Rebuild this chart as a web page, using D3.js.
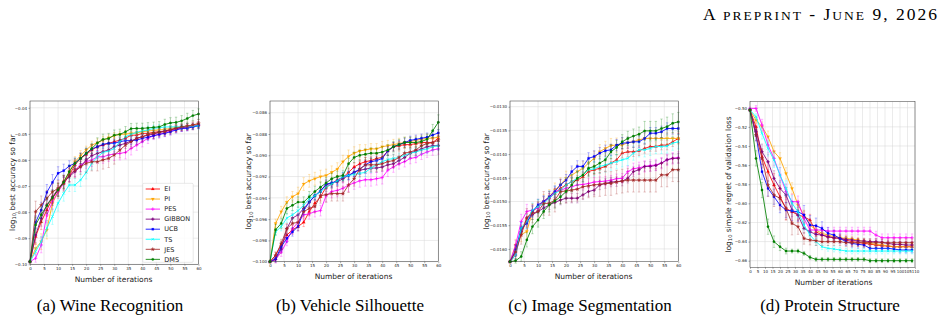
<!DOCTYPE html>
<meta charset="utf-8">
<style>

body {
  margin: 0;
  background: #fff;
}

svg {
  display: block;
}

.tick text {
  font: 4px "DejaVu Sans";
  fill: #222;
}

.label {
  font: 7.5px "DejaVu Sans";
  fill: #222;
}

.legend text {
  font: 6.5px "DejaVu Sans";
  fill: #222;
}

.serif {
  font-family: "Liberation Serif", serif;
  fill: #000;
}

</style>
<svg width="944" height="322"></svg>
<script src="https://cdnjs.cloudflare.com/ajax/libs/d3/7.8.5/d3.min.js"></script>
<script>

var methods = ["EI", "PI", "PES", "GIBBON", "UCB", "TS", "JES", "DMS"],
    colors = ["red", "orange", "magenta", "purple", "blue", "cyan", "brown", "green"];

var iters60 = [0, 2, 4, 6, 8, 10, 12, 14, 16, 18, 20, 22, 24, 26, 28, 30, 32, 34, 36, 38, 40, 42, 44, 46, 48, 50, 52, 54, 56, 58, 60],
    iters110 = [0, 4, 8, 12, 16, 20, 24, 28, 32, 36, 40, 44, 48, 52, 56, 60, 64, 68, 72, 76, 80, 84, 88, 92, 96, 100, 104, 108];

var ticks60 = [0, 5, 10, 15, 20, 25, 30, 35, 40, 45, 50, 55, 60],
    ticks110 = [0, 5, 10, 15, 20, 25, 30, 35, 40, 45, 50, 55, 60, 65, 70, 75, 80, 85, 90, 95, 100, 105, 110];

var captions = ["(a) Wine Recognition", "(b) Vehicle Silhouette", "(c) Image Segmentation", "(d) Protein Structure"];

// (a) wine recognition, log10 best accuracy so far
var wineEI = [-0.0990,-0.0894,-0.0837,-0.0792,-0.0747,-0.0715,-0.0690,-0.0658,-0.0619,-0.0594,-0.0579,-0.0562,-0.0549,-0.0543,-0.0536,-0.0530,-0.0524,-0.0517,-0.0505,-0.0505,-0.0498,-0.0498,-0.0494,-0.0492,-0.0489,-0.0483,-0.0479,-0.0475,-0.0473,-0.0470,-0.0466];
var winePI = [-0.0990,-0.0939,-0.0913,-0.0868,-0.0766,-0.0722,-0.0683,-0.0645,-0.0607,-0.0584,-0.0562,-0.0543,-0.0534,-0.0524,-0.0515,-0.0507,-0.0502,-0.0501,-0.0498,-0.0496,-0.0492,-0.0489,-0.0487,-0.0485,-0.0483,-0.0479,-0.0475,-0.0473,-0.0470,-0.0466,-0.0464];
var winePES = [-0.0990,-0.0977,-0.0926,-0.0811,-0.0760,-0.0722,-0.0690,-0.0658,-0.0639,-0.0619,-0.0607,-0.0600,-0.0588,-0.0588,-0.0581,-0.0577,-0.0575,-0.0571,-0.0556,-0.0543,-0.0530,-0.0517,-0.0507,-0.0502,-0.0496,-0.0489,-0.0483,-0.0479,-0.0475,-0.0470,-0.0466];
var wineGIBBON = [-0.0990,-0.0888,-0.0824,-0.0773,-0.0741,-0.0711,-0.0683,-0.0664,-0.0645,-0.0626,-0.0600,-0.0584,-0.0575,-0.0568,-0.0562,-0.0549,-0.0543,-0.0536,-0.0528,-0.0517,-0.0511,-0.0505,-0.0501,-0.0494,-0.0489,-0.0485,-0.0479,-0.0476,-0.0473,-0.0473,-0.0466];
var wineUCB = [-0.0990,-0.0839,-0.0792,-0.0724,-0.0686,-0.0651,-0.0641,-0.0623,-0.0613,-0.0594,-0.0575,-0.0558,-0.0549,-0.0540,-0.0536,-0.0536,-0.0530,-0.0526,-0.0526,-0.0524,-0.0517,-0.0513,-0.0507,-0.0502,-0.0498,-0.0492,-0.0485,-0.0479,-0.0479,-0.0473,-0.0470];
var wineTS = [-0.0990,-0.0951,-0.0913,-0.0862,-0.0817,-0.0766,-0.0728,-0.0696,-0.0696,-0.0677,-0.0648,-0.0613,-0.0588,-0.0571,-0.0566,-0.0556,-0.0530,-0.0511,-0.0502,-0.0494,-0.0489,-0.0485,-0.0479,-0.0476,-0.0474,-0.0473,-0.0473,-0.0473,-0.0471,-0.0470,-0.0469];
var wineJES = [-0.0990,-0.0798,-0.0773,-0.0747,-0.0722,-0.0709,-0.0690,-0.0658,-0.0639,-0.0626,-0.0613,-0.0607,-0.0607,-0.0600,-0.0594,-0.0581,-0.0562,-0.0543,-0.0530,-0.0517,-0.0511,-0.0502,-0.0498,-0.0494,-0.0492,-0.0485,-0.0479,-0.0473,-0.0470,-0.0466,-0.0460];
var wineDMS = [-0.0990,-0.0849,-0.0810,-0.0775,-0.0745,-0.0715,-0.0685,-0.0645,-0.0613,-0.0594,-0.0575,-0.0556,-0.0535,-0.0521,-0.0518,-0.0505,-0.0502,-0.0492,-0.0480,-0.0479,-0.0479,-0.0477,-0.0475,-0.0473,-0.0464,-0.0458,-0.0456,-0.0450,-0.0441,-0.0430,-0.0424];

var wineErrEI = [0,.0030,.0030,.0025,.0025,.0025,.0025,.0025,.0020,.0020,.0020,.0020,.0015,.0015,.0015,.0015,.0015,.0015,.0015,.0015,.0015,.0015,.0012,.0012,.0012,.0012,.0012,.0012,.0012,.0012,.0012];
var wineErrPI = [0,.0020,.0030,.0035,.0030,.0025,.0025,.0020,.0020,.0020,.0015,.0015,.0015,.0015,.0012,.0012,.0012,.0012,.0010,.0010,.0010,.0010,.0010,.0010,.0010,.0010,.0010,.0010,.0010,.0010,.0010];
var wineErrPES = [0,.0015,.0030,.0030,.0030,.0025,.0025,.0025,.0025,.0025,.0025,.0025,.0025,.0025,.0025,.0025,.0025,.0025,.0025,.0020,.0020,.0020,.0015,.0015,.0015,.0015,.0012,.0012,.0012,.0012,.0012];
var wineErrGIBBON = [0,.0030,.0030,.0030,.0025,.0025,.0025,.0020,.0020,.0020,.0020,.0020,.0020,.0020,.0020,.0020,.0020,.0020,.0020,.0015,.0015,.0015,.0015,.0015,.0015,.0012,.0012,.0012,.0012,.0012,.0012];
var wineErrUCB = [0,.0025,.0030,.0030,.0030,.0025,.0025,.0020,.0020,.0020,.0020,.0018,.0018,.0015,.0015,.0015,.0015,.0015,.0015,.0015,.0015,.0012,.0012,.0012,.0012,.0012,.0012,.0012,.0010,.0010,.0010];
var wineErrTS = [0,.0015,.0020,.0030,.0030,.0030,.0030,.0025,.0025,.0025,.0025,.0025,.0020,.0020,.0020,.0020,.0020,.0015,.0015,.0015,.0015,.0015,.0012,.0012,.0012,.0012,.0012,.0012,.0012,.0012,.0012];
var wineErrJES = [0,.0040,.0035,.0030,.0030,.0030,.0030,.0030,.0030,.0030,.0035,.0035,.0035,.0035,.0035,.0035,.0030,.0030,.0025,.0025,.0020,.0020,.0020,.0015,.0015,.0015,.0015,.0015,.0015,.0015,.0015];
var wineErrDMS = [0,.0030,.0030,.0030,.0030,.0025,.0025,.0025,.0020,.0020,.0020,.0020,.0020,.0020,.0020,.0020,.0020,.0020,.0020,.0020,.0020,.0020,.0020,.0020,.0020,.0020,.0020,.0020,.0020,.0020,.0020];

// (b) vehicle silhouette, log10 best accuracy so far
var vehEI = [-0.1000,-0.0994,-0.0984,-0.0975,-0.0970,-0.0967,-0.0963,-0.0953,-0.0945,-0.0939,-0.0930,-0.0927,-0.0923,-0.0921,-0.0916,-0.0911,-0.0908,-0.0906,-0.0905,-0.0903,-0.0902,-0.0896,-0.0892,-0.0891,-0.0890,-0.0890,-0.0889,-0.0888,-0.0888,-0.0888,-0.0884];
var vehPI = [-0.1000,-0.0964,-0.0953,-0.0944,-0.0939,-0.0936,-0.0927,-0.0924,-0.0922,-0.0920,-0.0919,-0.0916,-0.0913,-0.0906,-0.0901,-0.0898,-0.0896,-0.0895,-0.0894,-0.0894,-0.0892,-0.0891,-0.0890,-0.0889,-0.0888,-0.0887,-0.0886,-0.0885,-0.0884,-0.0884,-0.0883];
var vehPES = [-0.1000,-0.0998,-0.0991,-0.0981,-0.0969,-0.0963,-0.0956,-0.0955,-0.0953,-0.0952,-0.0938,-0.0934,-0.0933,-0.0931,-0.0928,-0.0926,-0.0924,-0.0923,-0.0923,-0.0922,-0.0921,-0.0914,-0.0911,-0.0908,-0.0906,-0.0903,-0.0902,-0.0899,-0.0897,-0.0895,-0.0894];
var vehGIBBON = [-0.1000,-0.0998,-0.0988,-0.0969,-0.0959,-0.0956,-0.0950,-0.0944,-0.0938,-0.0933,-0.0928,-0.0926,-0.0925,-0.0922,-0.0919,-0.0916,-0.0914,-0.0913,-0.0912,-0.0912,-0.0911,-0.0909,-0.0908,-0.0905,-0.0902,-0.0898,-0.0896,-0.0894,-0.0892,-0.0891,-0.0891];
var vehUCB = [-0.1000,-0.0997,-0.0986,-0.0978,-0.0972,-0.0967,-0.0952,-0.0944,-0.0938,-0.0934,-0.0927,-0.0926,-0.0924,-0.0920,-0.0919,-0.0916,-0.0913,-0.0909,-0.0906,-0.0905,-0.0903,-0.0896,-0.0892,-0.0890,-0.0888,-0.0886,-0.0885,-0.0884,-0.0883,-0.0881,-0.0879];
var vehTS = [-0.1000,-0.0972,-0.0967,-0.0959,-0.0956,-0.0952,-0.0947,-0.0941,-0.0938,-0.0934,-0.0930,-0.0927,-0.0924,-0.0920,-0.0919,-0.0918,-0.0917,-0.0916,-0.0912,-0.0909,-0.0906,-0.0904,-0.0903,-0.0902,-0.0900,-0.0898,-0.0897,-0.0895,-0.0894,-0.0892,-0.0891];
var vehJES = [-0.1000,-0.0994,-0.0983,-0.0969,-0.0964,-0.0963,-0.0953,-0.0950,-0.0948,-0.0938,-0.0937,-0.0936,-0.0936,-0.0936,-0.0928,-0.0922,-0.0913,-0.0909,-0.0909,-0.0909,-0.0908,-0.0906,-0.0905,-0.0902,-0.0898,-0.0897,-0.0895,-0.0891,-0.0889,-0.0888,-0.0886];
var vehDMS = [-0.1000,-0.0970,-0.0964,-0.0950,-0.0947,-0.0944,-0.0944,-0.0939,-0.0934,-0.0930,-0.0926,-0.0922,-0.0920,-0.0919,-0.0908,-0.0902,-0.0900,-0.0899,-0.0898,-0.0898,-0.0897,-0.0895,-0.0892,-0.0890,-0.0888,-0.0888,-0.0888,-0.0887,-0.0885,-0.0877,-0.0869];

var vehErrEI = [0,.0003,.0003,.0004,.0004,.0004,.0004,.0004,.0004,.0004,.0004,.0004,.0004,.0004,.0004,.0004,.0004,.0004,.0004,.0004,.0004,.0004,.0004,.0004,.0003,.0003,.0003,.0003,.0003,.0003,.0003];
var vehErrPI = [0,.0004,.0005,.0005,.0005,.0006,.0006,.0006,.0006,.0006,.0006,.0006,.0006,.0006,.0006,.0006,.0006,.0005,.0005,.0005,.0005,.0005,.0005,.0005,.0005,.0004,.0004,.0004,.0004,.0004,.0004];
var vehErrPES = [0,.0003,.0004,.0004,.0005,.0005,.0005,.0005,.0005,.0005,.0006,.0006,.0006,.0006,.0006,.0006,.0006,.0006,.0006,.0006,.0006,.0006,.0005,.0005,.0005,.0005,.0005,.0005,.0005,.0005,.0005];
var vehErrGIBBON = [0,.0003,.0004,.0004,.0004,.0004,.0004,.0004,.0004,.0004,.0004,.0004,.0004,.0004,.0004,.0004,.0004,.0004,.0004,.0004,.0004,.0004,.0004,.0004,.0004,.0004,.0004,.0004,.0004,.0004,.0004];
var vehErrUCB = [0,.0003,.0004,.0004,.0004,.0004,.0004,.0004,.0004,.0004,.0004,.0004,.0004,.0004,.0004,.0004,.0004,.0004,.0004,.0004,.0004,.0004,.0004,.0004,.0004,.0004,.0004,.0004,.0004,.0003,.0003];
var vehErrTS = [0,.0003,.0004,.0004,.0004,.0004,.0004,.0004,.0004,.0004,.0004,.0004,.0004,.0004,.0004,.0004,.0004,.0004,.0004,.0004,.0004,.0004,.0004,.0004,.0004,.0004,.0004,.0004,.0004,.0004,.0004];
var vehErrJES = [0,.0003,.0004,.0005,.0005,.0005,.0005,.0006,.0006,.0007,.0007,.0007,.0007,.0007,.0007,.0007,.0007,.0007,.0006,.0006,.0006,.0006,.0006,.0006,.0005,.0005,.0005,.0005,.0005,.0005,.0005];
var vehErrDMS = [0,.0005,.0005,.0005,.0005,.0005,.0005,.0005,.0005,.0005,.0005,.0005,.0005,.0005,.0005,.0005,.0005,.0005,.0005,.0005,.0005,.0005,.0005,.0005,.0005,.0005,.0005,.0005,.0005,.0006,.0007];

// (c) image segmentation, log10 best accuracy so far
var segEI = [-0.01627,-0.01606,-0.01563,-0.01535,-0.01521,-0.01511,-0.01500,-0.01493,-0.01483,-0.01472,-0.01465,-0.01458,-0.01455,-0.01448,-0.01437,-0.01433,-0.01430,-0.01426,-0.01419,-0.01412,-0.01398,-0.01395,-0.01395,-0.01393,-0.01388,-0.01384,-0.01384,-0.01381,-0.01381,-0.01374,-0.01367];
var segPI = [-0.01627,-0.01592,-0.01570,-0.01563,-0.01521,-0.01511,-0.01500,-0.01490,-0.01476,-0.01465,-0.01451,-0.01444,-0.01437,-0.01430,-0.01419,-0.01409,-0.01395,-0.01388,-0.01382,-0.01381,-0.01381,-0.01376,-0.01374,-0.01370,-0.01367,-0.01367,-0.01367,-0.01367,-0.01367,-0.01367,-0.01367];
var segPES = [-0.01627,-0.01592,-0.01542,-0.01521,-0.01518,-0.01514,-0.01500,-0.01493,-0.01479,-0.01476,-0.01472,-0.01469,-0.01465,-0.01464,-0.01462,-0.01459,-0.01458,-0.01457,-0.01455,-0.01452,-0.01451,-0.01437,-0.01431,-0.01429,-0.01426,-0.01424,-0.01423,-0.01419,-0.01412,-0.01409,-0.01407];
var segGIBBON = [-0.01627,-0.01613,-0.01563,-0.01542,-0.01528,-0.01521,-0.01514,-0.01507,-0.01502,-0.01497,-0.01493,-0.01493,-0.01493,-0.01486,-0.01479,-0.01476,-0.01465,-0.01462,-0.01459,-0.01458,-0.01457,-0.01451,-0.01437,-0.01433,-0.01426,-0.01426,-0.01424,-0.01419,-0.01412,-0.01409,-0.01409];
var segUCB = [-0.01627,-0.01602,-0.01556,-0.01546,-0.01521,-0.01507,-0.01500,-0.01490,-0.01479,-0.01465,-0.01455,-0.01437,-0.01426,-0.01426,-0.01409,-0.01405,-0.01398,-0.01393,-0.01391,-0.01381,-0.01377,-0.01376,-0.01374,-0.01374,-0.01367,-0.01356,-0.01356,-0.01353,-0.01346,-0.01346,-0.01346];
var segTS = [-0.01627,-0.01613,-0.01556,-0.01542,-0.01518,-0.01511,-0.01504,-0.01493,-0.01483,-0.01476,-0.01465,-0.01458,-0.01451,-0.01444,-0.01433,-0.01431,-0.01426,-0.01423,-0.01419,-0.01416,-0.01412,-0.01409,-0.01398,-0.01391,-0.01391,-0.01388,-0.01384,-0.01384,-0.01383,-0.01377,-0.01374];
var segJES = [-0.01627,-0.01606,-0.01570,-0.01535,-0.01525,-0.01521,-0.01504,-0.01504,-0.01497,-0.01479,-0.01478,-0.01476,-0.01474,-0.01469,-0.01467,-0.01465,-0.01464,-0.01462,-0.01462,-0.01459,-0.01457,-0.01455,-0.01455,-0.01455,-0.01455,-0.01455,-0.01455,-0.01444,-0.01444,-0.01433,-0.01433];
var segDMS = [-0.01627,-0.01625,-0.01616,-0.01581,-0.01553,-0.01539,-0.01521,-0.01507,-0.01499,-0.01490,-0.01479,-0.01465,-0.01451,-0.01444,-0.01430,-0.01426,-0.01419,-0.01412,-0.01395,-0.01386,-0.01374,-0.01367,-0.01362,-0.01358,-0.01351,-0.01351,-0.01351,-0.01346,-0.01342,-0.01335,-0.01332];

var segErrEI = [0,.00010,.00010,.00010,.00010,.00010,.00010,.00010,.00010,.00010,.00010,.00010,.00010,.00010,.00010,.00010,.00010,.00010,.00010,.00010,.00010,.00010,.00010,.00010,.00010,.00010,.00010,.00010,.00010,.00010,.00010];
var segErrPI = [0,.00012,.00015,.00015,.00015,.00015,.00015,.00015,.00015,.00015,.00015,.00015,.00015,.00015,.00015,.00015,.00015,.00015,.00015,.00015,.00015,.00012,.00012,.00012,.00012,.00012,.00012,.00012,.00012,.00012,.00012];
var segErrPES = [0,.00010,.00015,.00015,.00010,.00010,.00010,.00010,.00010,.00010,.00010,.00010,.00010,.00010,.00010,.00010,.00010,.00010,.00010,.00010,.00010,.00012,.00012,.00012,.00012,.00012,.00012,.00012,.00012,.00012,.00012];
var segErrGIBBON = [0,.00010,.00010,.00010,.00010,.00010,.00010,.00010,.00010,.00010,.00010,.00010,.00010,.00010,.00010,.00010,.00010,.00010,.00010,.00010,.00010,.00010,.00010,.00010,.00010,.00010,.00010,.00010,.00010,.00010,.00010];
var segErrUCB = [0,.00010,.00012,.00012,.00012,.00012,.00012,.00012,.00012,.00012,.00012,.00012,.00012,.00012,.00012,.00012,.00012,.00012,.00012,.00012,.00012,.00012,.00012,.00012,.00012,.00012,.00012,.00012,.00012,.00012,.00012];
var segErrTS = [0,.00010,.00012,.00015,.00015,.00015,.00015,.00015,.00015,.00015,.00015,.00015,.00015,.00015,.00015,.00015,.00015,.00015,.00015,.00015,.00015,.00015,.00015,.00015,.00015,.00015,.00015,.00015,.00015,.00015,.00015];
var segErrJES = [0,.00015,.00020,.00020,.00020,.00020,.00025,.00025,.00025,.00025,.00025,.00025,.00025,.00025,.00025,.00025,.00025,.00025,.00025,.00025,.00025,.00025,.00025,.00025,.00025,.00025,.00025,.00025,.00025,.00025,.00025];
var segErrDMS = [0,.00005,.00010,.00015,.00015,.00015,.00015,.00015,.00015,.00015,.00015,.00015,.00015,.00015,.00015,.00015,.00015,.00015,.00015,.00015,.00015,.00015,.00015,.00015,.00020,.00020,.00020,.00020,.00020,.00020,.00020];

// (d) protein structure, log10 simple regret of validation loss
var protEI = [-0.5024,-0.5199,-0.5512,-0.5669,-0.5809,-0.5931,-0.6053,-0.6088,-0.6122,-0.6140,-0.6175,-0.6297,-0.6332,-0.6349,-0.6360,-0.6367,-0.6384,-0.6401,-0.6408,-0.6419,-0.6426,-0.6436,-0.6443,-0.6447,-0.6454,-0.6454,-0.6454,-0.6454];
var protPI = [-0.5024,-0.5129,-0.5199,-0.5303,-0.5460,-0.5530,-0.5687,-0.5844,-0.6018,-0.6122,-0.6227,-0.6279,-0.6314,-0.6332,-0.6349,-0.6360,-0.6367,-0.6374,-0.6384,-0.6401,-0.6419,-0.6429,-0.6436,-0.6443,-0.6454,-0.6454,-0.6454,-0.6454];
var protPES = [-0.5007,-0.5007,-0.5181,-0.5390,-0.5530,-0.5704,-0.5878,-0.5983,-0.5983,-0.6157,-0.6279,-0.6279,-0.6279,-0.6290,-0.6290,-0.6290,-0.6290,-0.6290,-0.6290,-0.6290,-0.6290,-0.6332,-0.6360,-0.6360,-0.6360,-0.6360,-0.6360,-0.6360];
var protGIBBON = [-0.5024,-0.5251,-0.5460,-0.5565,-0.5739,-0.5844,-0.5913,-0.6070,-0.6122,-0.6262,-0.6297,-0.6325,-0.6332,-0.6349,-0.6360,-0.6367,-0.6377,-0.6384,-0.6394,-0.6394,-0.6401,-0.6401,-0.6408,-0.6419,-0.6429,-0.6429,-0.6436,-0.6436];
var protUCB = [-0.5024,-0.5286,-0.5669,-0.5844,-0.5931,-0.6018,-0.6070,-0.6081,-0.6088,-0.6122,-0.6227,-0.6234,-0.6262,-0.6314,-0.6332,-0.6367,-0.6401,-0.6419,-0.6429,-0.6436,-0.6471,-0.6471,-0.6471,-0.6471,-0.6478,-0.6488,-0.6488,-0.6488];
var protTS = [-0.5024,-0.5094,-0.5268,-0.5425,-0.5547,-0.5704,-0.5844,-0.6000,-0.6088,-0.6227,-0.6332,-0.6401,-0.6454,-0.6471,-0.6478,-0.6488,-0.6499,-0.6499,-0.6499,-0.6499,-0.6499,-0.6499,-0.6499,-0.6499,-0.6499,-0.6499,-0.6499,-0.6499];
var protJES = [-0.5024,-0.5286,-0.5530,-0.5809,-0.5913,-0.5948,-0.6053,-0.6210,-0.6244,-0.6367,-0.6384,-0.6391,-0.6401,-0.6401,-0.6401,-0.6401,-0.6412,-0.6412,-0.6412,-0.6412,-0.6412,-0.6412,-0.6412,-0.6412,-0.6412,-0.6412,-0.6412,-0.6412];
var protDMS = [-0.5024,-0.5530,-0.5861,-0.6244,-0.6401,-0.6454,-0.6499,-0.6499,-0.6499,-0.6523,-0.6565,-0.6586,-0.6586,-0.6586,-0.6586,-0.6586,-0.6586,-0.6586,-0.6586,-0.6586,-0.6600,-0.6600,-0.6600,-0.6600,-0.6600,-0.6600,-0.6600,-0.6600];

var protErrEI = [0,.004,.008,.010,.012,.012,.012,.010,.008,.006,.006,.005,.005,.005,.004,.004,.004,.004,.004,.004,.004,.003,.003,.003,.003,.003,.003,.003];
var protErrPI = [0,.003,.005,.006,.006,.006,.006,.006,.005,.005,.004,.004,.004,.004,.003,.003,.003,.003,.003,.003,.003,.003,.003,.003,.003,.003,.003,.003];
var protErrPES = [0,.003,.006,.008,.008,.008,.008,.008,.006,.005,.004,.004,.004,.004,.004,.004,.004,.004,.004,.004,.004,.004,.004,.004,.004,.004,.004,.004];
var protErrGIBBON = [0,.005,.008,.008,.008,.008,.008,.007,.006,.005,.004,.004,.004,.004,.003,.003,.003,.003,.003,.003,.003,.003,.003,.003,.003,.003,.003,.003];
var protErrUCB = [0,.006,.008,.008,.008,.008,.008,.010,.010,.010,.010,.008,.007,.006,.005,.005,.004,.004,.004,.003,.003,.003,.003,.003,.003,.003,.003,.003];
var protErrTS = [0,.003,.006,.008,.008,.008,.008,.008,.006,.005,.004,.004,.003,.003,.003,.003,.003,.003,.003,.003,.003,.003,.003,.003,.003,.003,.003,.003];
var protErrJES = [0,.006,.010,.012,.012,.012,.012,.012,.008,.006,.005,.005,.004,.004,.004,.004,.004,.004,.004,.004,.004,.004,.004,.004,.004,.004,.004,.004];
var protErrDMS = [0,.008,.008,.008,.006,.004,.003,.002,.002,.002,.002,.002,.002,.002,.002,.002,.002,.002,.002,.002,.002,.002,.002,.002,.002,.002,.002,.002];

var wineYTicks = [-0.10, -0.09, -0.08, -0.07, -0.06, -0.05, -0.04],
    wineYLabels = ["\u22120.10", "\u22120.09", "\u22120.08", "\u22120.07", "\u22120.06", "\u22120.05", "\u22120.04"],
    vehYTicks = [-0.100, -0.098, -0.096, -0.094, -0.092, -0.090, -0.088, -0.086],
    vehYLabels = ["\u22120.100", "\u22120.098", "\u22120.096", "\u22120.094", "\u22120.092", "\u22120.090", "\u22120.088", "\u22120.086"],
    segYTicks = [-0.0160, -0.0155, -0.0150, -0.0145, -0.0140, -0.0135, -0.0130],
    segYLabels = ["\u22120.0160", "\u22120.0155", "\u22120.0150", "\u22120.0145", "\u22120.0140", "\u22120.0135", "\u22120.0130"],
    protYTicks = [-0.66, -0.64, -0.62, -0.60, -0.58, -0.56, -0.54, -0.52, -0.50],
    protYLabels = ["\u22120.66", "\u22120.64", "\u22120.62", "\u22120.60", "\u22120.58", "\u22120.56", "\u22120.54", "\u22120.52", "\u22120.50"];

</script>
<script>

var svg = d3.select("svg");

var symbols = [
  {type: d3.symbolTriangle, rotate: 0, fill: true},
  {type: d3.symbolTriangle, rotate: 180, fill: true},
  {type: d3.symbolPlus, rotate: 0, fill: false},
  {type: d3.symbolCross, rotate: 0, fill: true},
  {type: d3.symbolSquare, rotate: 0, fill: true},
  {type: d3.symbolTimes, rotate: 0, fill: false},
  {type: d3.symbolStar, rotate: 0, fill: true},
  {type: d3.symbolCircle, rotate: 0, fill: true}
];

var panels = [
  {box: [30, 198.5, 101, 264.3], xDomain: [0, 60], yDomain: [-0.1000, -0.0374],
   iters: iters60, xTicks: ticks60, yTicks: wineYTicks, yLabels: wineYLabels,
   series: [wineEI, winePI, winePES, wineGIBBON, wineUCB, wineTS, wineJES, wineDMS],
   errors: [wineErrEI, wineErrPI, wineErrPES, wineErrGIBBON, wineErrUCB, wineErrTS, wineErrJES, wineErrDMS],
   ylabel: " best accuracy so far", ylx: 12, xlx: 113.5, legend: true},
  {box: [270, 438.3, 101, 261.7], xDomain: [0, 60], yDomain: [-0.1000, -0.0849],
   iters: iters60, xTicks: ticks60, yTicks: vehYTicks, yLabels: vehYLabels,
   series: [vehEI, vehPI, vehPES, vehGIBBON, vehUCB, vehTS, vehJES, vehDMS],
   errors: [vehErrEI, vehErrPI, vehErrPES, vehErrGIBBON, vehErrUCB, vehErrTS, vehErrJES, vehErrDMS],
   ylabel: " best accuracy so far", ylx: 248.5, xlx: 353.5},
  {box: [510, 678.3, 101, 261.7], xDomain: [0, 60], yDomain: [-0.01627, -0.01288],
   iters: iters60, xTicks: ticks60, yTicks: segYTicks, yLabels: segYLabels,
   series: [segEI, segPI, segPES, segGIBBON, segUCB, segTS, segJES, segDMS],
   errors: [segErrEI, segErrPI, segErrPES, segErrGIBBON, segErrUCB, segErrTS, segErrJES, segErrDMS],
   ylabel: " best accuracy so far", ylx: 486, xlx: 593.5},
  {box: [750, 915, 101.7, 267.3], xDomain: [0, 110], yDomain: [-0.6669, -0.4937],
   iters: iters110, xTicks: ticks110, yTicks: protYTicks, yLabels: protYLabels,
   series: [protEI, protPI, protPES, protGIBBON, protUCB, protTS, protJES, protDMS],
   errors: [protErrEI, protErrPI, protErrPES, protErrGIBBON, protErrUCB, protErrTS, protErrJES, protErrDMS],
   ylabel: " simple regret of validation loss", ylx: 728, xlx: 833.5}
];

function marker(g, k, cx, cy, size) {
  var s = symbols[k];
  g.append("path")
      .attr("d", d3.symbol(s.type, size)())
      .attr("transform", "translate(" + cx + "," + cy + ") rotate(" + s.rotate + ")")
      .attr("fill", s.fill ? colors[k] : "none")
      .attr("stroke", colors[k])
      .attr("stroke-width", s.fill ? 0.2 : 0.7);
}

panels.forEach(function(p) {
  var left = p.box[0], right = p.box[1], top = p.box[2], bottom = p.box[3];
  var x = d3.scaleLinear().domain(p.xDomain).range([left, right]),
      y = d3.scaleLinear().domain(p.yDomain).range([bottom, top]);

  var g = svg.append("g");

  // grid
  g.append("g").selectAll("line")
    .data(p.xTicks)
    .enter().append("line")
      .attr("x1", function(d) { return x(d); })
      .attr("x2", function(d) { return x(d); })
      .attr("y1", top)
      .attr("y2", bottom)
      .attr("stroke", "#d6d6d6")
      .attr("stroke-width", 0.5);

  g.append("g").selectAll("line")
    .data(p.yTicks)
    .enter().append("line")
      .attr("x1", left)
      .attr("x2", right)
      .attr("y1", function(d) { return y(d); })
      .attr("y2", function(d) { return y(d); })
      .attr("stroke", "#d6d6d6")
      .attr("stroke-width", 0.5);

  // axes
  var xa = g.append("g")
      .attr("transform", "translate(0," + bottom + ")")
      .call(d3.axisBottom(x).tickValues(p.xTicks).tickSize(1.5).tickPadding(1.2));
  var ya = g.append("g")
      .attr("transform", "translate(" + left + ",0)")
      .call(d3.axisLeft(y).tickValues(p.yTicks).tickSize(1.5).tickPadding(1.5)
        .tickFormat(function(d, i) { return p.yLabels[i]; }));
  [xa, ya].forEach(function(a) {
    a.select(".domain").remove();
    a.selectAll(".tick line").attr("stroke", "#333").attr("stroke-width", 0.4);
    a.attr("font-size", null).attr("font-family", null);
  });

  // series
  p.series.forEach(function(vals, k) {
    var errs = p.errors[k],
        s = g.append("g");
    var pts = p.iters.map(function(t, i) { return [t, vals[i], errs[i]]; });

    s.selectAll(".eb")
      .data(pts.filter(function(d) { return d[2] > 0; }))
      .enter().append("path")
        .attr("d", function(d) {
          var cx = x(d[0]), y0 = y(d[1] - d[2]), y1 = y(d[1] + d[2]);
          return "M" + cx + "," + y0 + "V" + y1 +
                 "M" + (cx - 1.2) + "," + y0 + "H" + (cx + 1.2) +
                 "M" + (cx - 1.2) + "," + y1 + "H" + (cx + 1.2);
        })
        .attr("fill", "none")
        .attr("stroke", colors[k])
        .attr("stroke-opacity", 0.45)
        .attr("stroke-width", 0.6);

    s.append("path")
        .attr("d", d3.line().x(function(d) { return x(d[0]); }).y(function(d) { return y(d[1]); })(pts))
        .attr("fill", "none")
        .attr("stroke", colors[k])
        .attr("stroke-width", 0.85);

    pts.forEach(function(d) { marker(s, k, x(d[0]), y(d[1]), 4.5); });
  });

  // frame
  g.append("rect")
      .attr("x", left)
      .attr("y", top)
      .attr("width", right - left)
      .attr("height", bottom - top)
      .attr("fill", "none")
      .attr("stroke", "#333")
      .attr("stroke-width", 0.5);

  // labels
  g.append("text")
      .attr("class", "label")
      .attr("x", p.xlx)
      .attr("y", bottom + 17.5)
      .attr("text-anchor", "middle")
      .text("Number of iterations");

  var yl = g.append("text")
      .attr("class", "label")
      .attr("text-anchor", "middle")
      .attr("transform", "translate(" + p.ylx + "," + ((top + bottom) / 2) + ") rotate(-90)")
      .attr("dy", "0.35em");
  yl.append("tspan").text("log");
  yl.append("tspan").attr("font-size", "5.2px").attr("dy", "1.6").text("10");
  yl.append("tspan").attr("dy", "-1.6").text(p.ylabel);

  if (p.legend) {
    var lg = g.append("g").attr("class", "legend");
    lg.append("rect")
        .attr("x", 142.7)
        .attr("y", 183.3)
        .attr("width", 50.5)
        .attr("height", 79)
        .attr("rx", 1.2)
        .attr("fill", "#fff")
        .attr("fill-opacity", 0.85)
        .attr("stroke", "#d0d0d0")
        .attr("stroke-width", 0.5);
    methods.forEach(function(m, k) {
      var ly = 189 + k * 10.05;
      lg.append("line")
          .attr("x1", 145.7).attr("x2", 160)
          .attr("y1", ly).attr("y2", ly)
          .attr("stroke", colors[k])
          .attr("stroke-width", 0.85);
      marker(lg, k, 152.8, ly, 4.5);
      lg.append("text")
          .attr("x", 164.3)
          .attr("y", ly)
          .attr("dy", "0.35em")
          .text(m);
    });
  }
});

// captions
var capX = [110, 350, 590, 830];
captions.forEach(function(c, i) {
  svg.append("text")
      .attr("class", "serif")
      .attr("x", capX[i])
      .attr("y", 311)
      .attr("text-anchor", "middle")
      .attr("font-size", "17px")
      .text(c);
});

// running header, small capitals set by hand
var header = svg.append("text")
    .attr("class", "serif")
    .attr("x", 937)
    .attr("y", 20)
    .attr("text-anchor", "end")
    .attr("font-size", "17.5px")
    .attr("textLength", 234)
    .attr("lengthAdjust", "spacing");
header.append("tspan").text("A ");
header.append("tspan").attr("font-size", "13.5px").text("PREPRINT");
header.append("tspan").text(" - J");
header.append("tspan").attr("font-size", "13.5px").text("UNE");
header.append("tspan").text(" 9, 2026");

</script>
